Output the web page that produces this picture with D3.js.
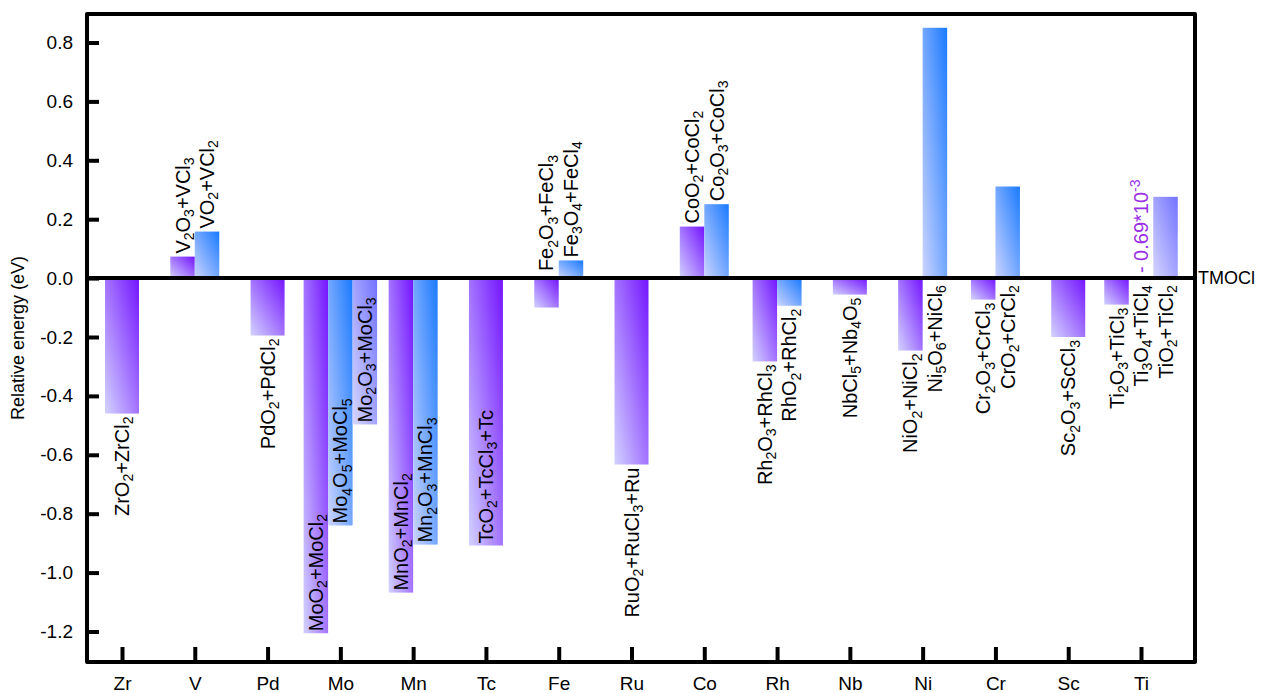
<!DOCTYPE html>
<html>
<head>
<meta charset="utf-8">
<script src="https://cdn.jsdelivr.net/npm/d3@7"></script>
<style>
  body { margin: 0; background: #fff; }
  svg { display: block; font-family: "Liberation Sans", Arial, sans-serif; }
</style>
</head>
<body>
<svg id="chart" width="1263" height="693"></svg>
<script>
// Relative energies of the competing oxide/chloride phases vs TMOCl

const elements = ['Zr', 'V', 'Pd', 'Mo', 'Mn', 'Tc', 'Fe', 'Ru', 'Co', 'Rh', 'Nb', 'Ni', 'Cr', 'Sc', 'Ti'];

// first, second and third competing phase for each element (null = none)
const series1 = [-0.460, 0.073, -0.195, -1.206, -1.068, -0.908, -0.100, -0.633, 0.175, -0.283, -0.056, -0.246, -0.073, -0.200, -0.090];
const series2 = [null, 0.158, null, -0.840, -0.905, null, 0.060, null, 0.251, -0.094, null, 0.850, 0.311, null, -0.00069];
const series3 = [null, null, null, -0.497, null, null, null, null, null, null, null, null, null, null, 0.276];

const labels1 = ['ZrO2+ZrCl2', 'V2O3+VCl3', 'PdO2+PdCl2', 'MoO2+MoCl2', 'MnO2+MnCl2', 'TcO2+TcCl3+Tc',
  'Fe2O3+FeCl3', 'RuO2+RuCl3+Ru', 'CoO2+CoCl2', 'Rh2O3+RhCl3', 'NbCl5+Nb4O5', 'NiO2+NiCl2',
  'Cr2O3+CrCl3', 'Sc2O3+ScCl3', 'Ti2O3+TiCl3'];
const labels2 = [null, 'VO2+VCl2', null, 'Mo4O5+MoCl5', 'Mn2O3+MnCl3', null, 'Fe3O4+FeCl4', null,
  'Co2O3+CoCl3', 'RhO2+RhCl2', null, 'Ni5O6+NiCl6', 'CrO2+CrCl2', null, 'Ti3O4+TiCl4'];
const labels3 = [null, null, null, 'Mo2O3+MoCl3', null, null, null, null, null, null, null, null, null, null, 'TiO2+TiCl2'];

// where each label sits: above / below the bar, or inside at its end
const place1 = ['below', 'above', 'below', 'inside', 'inside', 'inside', 'above', 'below', 'above', 'below', 'below', 'below', 'below', 'below', 'below'];
const place2 = [null, 'above', null, 'inside', 'inside', null, 'above', null, 'above', 'below', null, 'below', 'below', null, 'below'];
const place3 = [null, null, null, 'inside', null, null, null, null, null, null, null, null, null, null, 'below'];

const yTicks = [0.8, 0.6, 0.4, 0.2, 0.0, -0.2, -0.4, -0.6, -0.8, -1.0, -1.2];
const smallNote = '- 0.69*10';
const smallNoteExp = '-3';

const svg = d3.select('#chart');
const frame = { left: 87, right: 1195, top: 14, bottom: 662 };

const x = d3.scalePoint().domain(elements).range([122, 1141]);
const y = d3.scaleLinear().domain([-1.3036, 0.8968]).range([frame.bottom, frame.top]);

// gradients: light lavender at bottom-left to saturated at top-right
const colors = [
  { id: 'g1', light: '#d2d2ff', dark: '#7414ff' },
  { id: 'g2', light: '#ccd4ff', dark: '#1a7aff' },
  { id: 'g3', light: '#d6d6ff', dark: '#7272ff' }
];
const defs = svg.append('defs');
colors.forEach(c => {
  const g = defs.append('linearGradient').attr('id', c.id)
    .attr('x1', 0).attr('y1', 1).attr('x2', 1).attr('y2', 0);
  g.append('stop').attr('offset', '0%').attr('stop-color', c.light);
  g.append('stop').attr('offset', '100%').attr('stop-color', c.dark);
});

// flatten into bar records
const allSeries = [series1, series2, series3];
const allLabels = [labels1, labels2, labels3];
const allPlace = [place1, place2, place3];
const bars = [];
elements.forEach((el, i) => {
  const present = allSeries.map((s, k) => k).filter(k => allSeries[k][i] !== null);
  const n = present.length;
  const w = n === 1 ? 34 : 24.5;
  present.forEach((k, j) => {
    bars.push({
      el, k, value: allSeries[k][i], label: allLabels[k][i], place: allPlace[k][i],
      x0: x(el) - n * w / 2 + j * w, w
    });
  });
});

svg.append('g').selectAll('rect').data(bars).enter().append('rect')
  .attr('x', d => d.x0)
  .attr('width', d => d.w)
  .attr('y', d => y(Math.max(0, d.value)))
  .attr('height', d => Math.abs(y(d.value) - y(0)))
  .attr('fill', d => 'url(#' + colors[d.k].id + ')');

// axes
const yAxis = d3.axisLeft(y).tickValues(yTicks).tickSize(-12).tickPadding(14)
  .tickFormat(d => d.toFixed(1));
const gy = svg.append('g').attr('transform', `translate(${frame.left},0)`).call(yAxis);
const xAxis = d3.axisBottom(x).tickSize(-15).tickPadding(15);
const gx = svg.append('g').attr('transform', `translate(0,${frame.bottom})`).call(xAxis);
[gy, gx].forEach(g => {
  g.select('.domain').remove();
  g.selectAll('.tick line').attr('stroke', '#000').attr('stroke-width', 4);
  g.selectAll('.tick text').attr('fill', '#000').attr('font-size', 19)
    .attr('font-family', '"Liberation Sans", Arial, sans-serif');
});

// zero line and frame
svg.append('line')
  .attr('x1', frame.left).attr('x2', frame.right)
  .attr('y1', y(0)).attr('y2', y(0))
  .attr('stroke', '#000').attr('stroke-width', 4);
svg.append('rect')
  .attr('x', frame.left).attr('y', frame.top)
  .attr('width', frame.right - frame.left).attr('height', frame.bottom - frame.top)
  .attr('fill', 'none').attr('stroke', '#000').attr('stroke-width', 4)
  .attr('stroke-linejoin', 'round');

svg.append('text')
  .attr('x', frame.right + 3).attr('y', y(0)).attr('dy', '0.35em')
  .attr('font-size', 18).text('TMOCl');

svg.append('text')
  .attr('transform', `translate(24,${(frame.top + frame.bottom) / 2}) rotate(-90)`)
  .attr('text-anchor', 'middle').attr('font-size', 18)
  .text('Relative energy (eV)');

// rotated formula labels with subscripted digits
const F = 20;
function addFormula(t, str) {
  let shifted = false;
  str.match(/\d+|\D+/g).forEach(p => {
    const span = t.append('tspan').text(p);
    if (/\d/.test(p)) {
      span.attr('font-size', F * 0.7).attr('dy', F * 0.22);
      shifted = true;
    } else if (shifted) {
      span.attr('dy', -F * 0.22);
      shifted = false;
    }
  });
}

bars.forEach(d => {
  const cx = d.x0 + d.w / 2;
  const top = y(Math.max(0, d.value));
  const bottom = y(Math.min(0, d.value));
  let ay, anchor;
  if (d.place === 'above') {
    anchor = 'start';
    ay = d.value > 0 ? top - 3 : y(0) - 7;
  } else if (d.place === 'below') {
    anchor = 'end';
    ay = d.value < 0 && bottom - y(0) > 4 ? bottom + 3 : y(0) + 7;
  } else {
    anchor = 'start';
    ay = bottom - 2;
  }
  const t = svg.append('text')
    .attr('transform', `translate(${cx},${ay}) rotate(-90)`)
    .attr('text-anchor', anchor)
    .attr('y', F * 0.35)
    .attr('font-size', F);
  addFormula(t, d.label);
});

// note for the tiny Ti3O4 value
const ti3 = bars.find(d => d.el === 'Ti' && d.k === 1);
const note = svg.append('text')
  .attr('transform', `translate(${ti3.x0 + ti3.w / 2},${y(0) - 5}) rotate(-90)`)
  .attr('y', F * 0.35)
  .attr('font-size', F).attr('fill', '#9a2ee6');
note.append('tspan').text(smallNote);
note.append('tspan').attr('font-size', F * 0.7).attr('dy', -F * 0.4).text(smallNoteExp);
</script>
</body>
</html>
